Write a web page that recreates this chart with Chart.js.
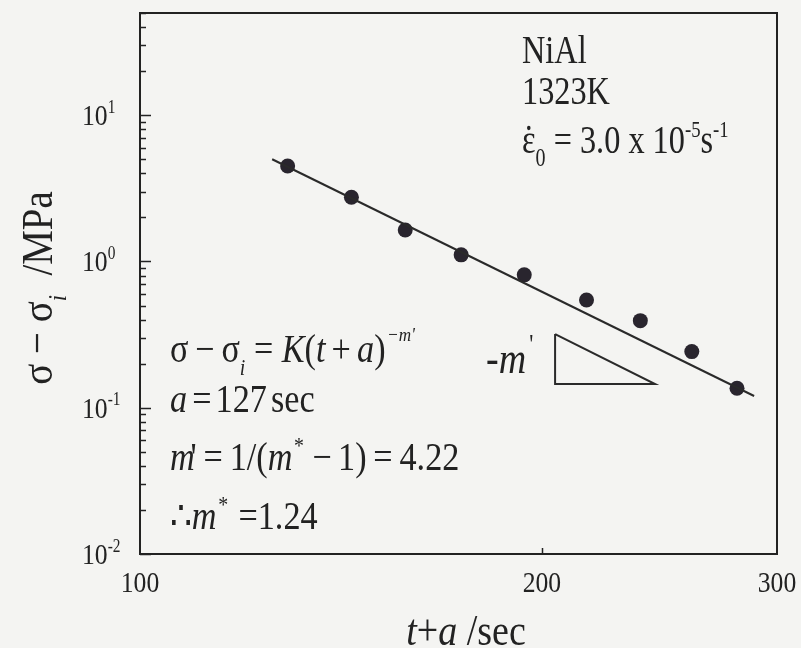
<!DOCTYPE html>
<html>
<head>
<meta charset="utf-8">
<script src="https://cdn.jsdelivr.net/npm/chart.js@4/dist/chart.umd.min.js"></script>
<style>
  html, body { margin: 0; padding: 0; background: #f4f4f2; }
  canvas { display: block; }
</style>
</head>
<body>
<canvas id="c" width="801" height="648"></canvas>
<script>
// Measured stress decay: sigma - sigma_i (MPa) against t + a (sec)
const timeShifted = [129, 144, 158, 174, 194, 216, 237, 259, 280];
const effStress   = [4.5, 2.75, 1.64, 1.11, 0.81, 0.545, 0.394, 0.242, 0.136];

// Power-law fit line end points
const fitTime   = [125.6, 288.4];
const fitStress = [5.0, 0.1203];

// Slope triangle (-m') vertices
const triTime   = [204.6, 204.6, 243.1, 204.6];
const triStress = [0.319, 0.1453, 0.1453, 0.319];

// Axis ticks
const xTickValues = [100, 200, 300];
const yTickExponents = [-2, -1, 0, 1];
const yMin = 0.01, yMax = 50, xMin = 100, xMax = 300;

const INK = '#222222';
const SERIF = '"Liberation Serif", "Times New Roman", serif';

function toPoints(xs, ys) { return xs.map((x, i) => ({ x: x, y: ys[i] })); }

// Draws a run of text pieces (italic, sub/superscript) along one baseline
function rich(ctx, x, y, segs, size, opts) {
  opts = opts || {};
  const sx = opts.sx || 1, sy = opts.sy || 1;
  let w = 0;
  const items = segs.map(s => {
    const sz = size * (s.s || 1);
    const font = (s.i ? 'italic ' : '') + sz.toFixed(1) + 'px ' + SERIF;
    ctx.font = font;
    const mw = ctx.measureText(s.t).width;
    const it = { s: s, font: font, w: mw, dy: (s.dy || 0) * size, dx: (s.dx || 0) * size, sz: sz };
    w += mw + it.dx;
    return it;
  });
  ctx.save();
  ctx.translate(x, y);
  if (opts.rot) ctx.rotate(opts.rot);
  ctx.scale(sx, sy);
  ctx.fillStyle = INK;
  ctx.textBaseline = 'alphabetic';
  ctx.textAlign = 'left';
  let cx = opts.align === 'center' ? -w / 2 : (opts.align === 'right' ? -w : 0);
  for (const it of items) {
    ctx.font = it.font;
    cx += it.dx;
    ctx.fillText(it.s.t, cx, it.dy);
    if (it.s.dot) {
      ctx.beginPath();
      ctx.arc(cx + it.w * 0.5, it.dy - it.sz * 0.64, it.sz * 0.055, 0, Math.PI * 2);
      ctx.fill();
    }
    cx += it.w;
  }
  ctx.restore();
  return w * sx;
}

const sup = (t, extra) => Object.assign({ t: t, s: 0.58, dy: -0.42 }, extra || {});
const sub = (t, extra) => Object.assign({ t: t, s: 0.58, dy: 0.32 }, extra || {});

const background = {
  id: 'background',
  beforeDraw(chart) {
    const ctx = chart.ctx;
    ctx.save();
    ctx.fillStyle = '#f4f4f2';
    ctx.fillRect(0, 0, chart.width, chart.height);
    ctx.restore();
  }
};

const frameAndText = {
  id: 'frameAndText',
  afterDraw(chart) {
    const ctx = chart.ctx;
    const a = chart.chartArea;
    const xs = chart.scales.x, ys = chart.scales.y;
    ctx.save();
    ctx.strokeStyle = INK;
    ctx.lineWidth = 2;
    ctx.strokeRect(a.left, a.top, a.right - a.left, a.bottom - a.top);

    // y ticks: majors at decades, minors at 2..9, pointing inward
    ctx.lineWidth = 1.5;
    for (let e = -2; e <= 1; e++) {
      for (let m = 1; m <= 9; m++) {
        const v = m * Math.pow(10, e);
        if (v < yMin || v > yMax) continue;
        const py = Math.round(ys.getPixelForValue(v)) + 0.5;
        const len = m === 1 ? 11 : 6;
        ctx.beginPath();
        ctx.moveTo(a.left, py);
        ctx.lineTo(a.left + len, py);
        ctx.stroke();
      }
    }
    // x tick at 200
    const p200 = Math.round(xs.getPixelForValue(200)) + 0.5;
    ctx.beginPath();
    ctx.moveTo(p200, a.bottom);
    ctx.lineTo(p200, a.bottom - 6);
    ctx.stroke();
    ctx.restore();

    // y tick labels 10^n
    for (const e of yTickExponents) {
      const py = ys.getPixelForValue(Math.pow(10, e));
      rich(ctx, 82, py + 10, [{ t: '10' }, sup(String(e), { s: 0.6, dy: -0.42 })], 27, { sx: 0.95, sy: 1.1 });
    }
    // x tick labels
    for (const v of xTickValues) {
      const px = xs.getPixelForValue(v);
      rich(ctx, px, 592, [{ t: String(v) }], 27, { align: 'center', sx: 0.95, sy: 1.1 });
    }

    // axis titles
    rich(ctx, 466, 645, [{ t: 't', i: true }, { t: '+' }, { t: 'a', i: true }, { t: ' /sec' }], 40, { align: 'center', sx: 0.95, sy: 1.1 });
    rich(ctx, 52, 288, [{ t: 'σ − σ' }, sub('i', { i: true }), { t: '  /MPa' }], 41, { align: 'center', sx: 0.95, sy: 1.1, rot: -Math.PI / 2 });

    // condition labels
    const AN = { sx: 0.95, sy: 1.15 };
    rich(ctx, 522, 63, [{ t: 'NiAl' }], 34, AN);
    rich(ctx, 522, 104, [{ t: '1323K' }], 34, AN);
    rich(ctx, 522, 153, [{ t: 'ε', dot: true }, sub('0', { dy: 0.32, s: 0.62 }), { t: ' = 3.0 x 10' }, sup('-5'), { t: 's' }, sup('-1')], 34, AN);

    // fit equation and constants
    const EQ = { sx: 0.95, sy: 1.1 };
    rich(ctx, 170, 362, [
      { t: 'σ' }, { t: '−', dx: 0.2 }, { t: 'σ', dx: 0.2 }, sub('i', { i: true }),
      { t: '=', dx: 0.25 }, { t: 'K', i: true, dx: 0.25 }, { t: '(' }, { t: 't', i: true },
      { t: '+', dx: 0.18 }, { t: 'a', i: true, dx: 0.18 }, { t: ')' },
      sup('−m\'', { i: true, s: 0.5, dy: -0.52, dx: 0.05 })
    ], 36, EQ);
    rich(ctx, 170, 412, [{ t: 'a', i: true }, { t: '=', dx: 0.15 }, { t: '127', dx: 0.12 }, { t: 'sec', dx: 0.12 }], 36, EQ);
    rich(ctx, 170, 470, [
      { t: 'm', i: true }, { t: '\'', dx: -0.12 }, { t: '=', dx: 0.2 }, { t: '1/(', dx: 0.2 },
      { t: 'm', i: true }, sup('*', { dx: 0.05 }), { t: '−', dx: 0.25 }, { t: '1)', dx: 0.18 },
      { t: '=', dx: 0.2 }, { t: '4.22', dx: 0.2 }
    ], 36, EQ);
    rich(ctx, 170, 529, [{ t: '∴' }, { t: 'm', i: true }, sup('*', { dx: 0.05 }), { t: '=1.24', dx: 0.3 }], 36, EQ);

    // slope label next to triangle
    rich(ctx, 486, 373, [{ t: '-' }, { t: 'm', i: true }, sup('\'', { s: 0.6, dy: -0.45, dx: 0.08 })], 40, EQ);
  }
};

new Chart(document.getElementById('c'), {
  type: 'scatter',
  data: {
    datasets: [
      {
        label: 'fit',
        data: toPoints(fitTime, fitStress),
        showLine: true,
        borderColor: '#2a2a2a',
        borderWidth: 2,
        pointRadius: 0,
        fill: false
      },
      {
        label: 'slope',
        data: toPoints(triTime, triStress),
        showLine: true,
        borderColor: '#2a2a2a',
        borderWidth: 2,
        pointRadius: 0,
        fill: false
      },
      {
        label: 'data',
        data: toPoints(timeShifted, effStress),
        showLine: false,
        pointRadius: 7.5,
        pointBackgroundColor: '#29252e',
        pointBorderColor: '#29252e',
        pointBorderWidth: 0
      }
    ]
  },
  options: {
    responsive: false,
    animation: false,
    devicePixelRatio: 1,
    layout: { padding: { left: 140, right: 24, top: 13, bottom: 94 } },
    plugins: { legend: { display: false }, tooltip: { enabled: false } },
    elements: { line: { tension: 0 } },
    clip: false,
    scales: {
      x: { type: 'logarithmic', min: xMin, max: xMax, display: false },
      y: { type: 'logarithmic', min: yMin, max: yMax, display: false }
    }
  },
  plugins: [background, frameAndText]
});
</script>
</body>
</html>
